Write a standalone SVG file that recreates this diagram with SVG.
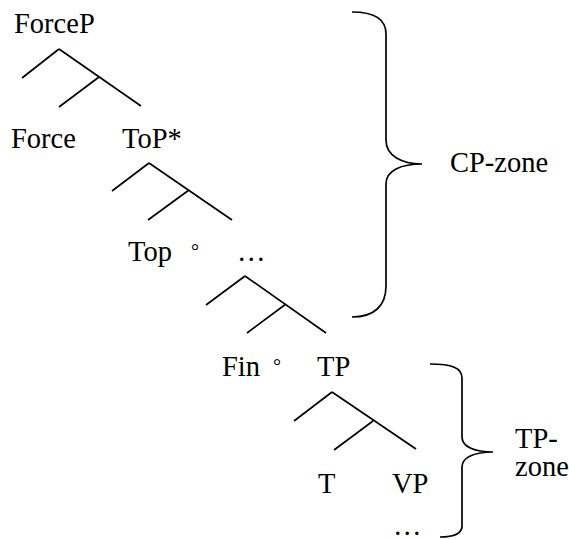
<svg xmlns="http://www.w3.org/2000/svg" width="569" height="539" viewBox="0 0 569 539">
<style>
text{font-family:"Liberation Serif","Times New Roman",serif;font-size:28.5px;fill:#000}
.deg{font-size:20px}
.e{stroke:#000;stroke-width:1.7;fill:none;stroke-linecap:butt}
</style>
<rect width="569" height="539" fill="#fff"/>
<g id="connectors">
<path class="e" d="M59,49 L22,78 M59,49 L141,106 M99,77 L59,107"/>
<path class="e" d="M149,163 L112,191 M149,163 L232,220 M189,190 L148,220"/>
<path class="e" d="M245,276 L206,305 M245,276 L326,333 M286,304 L247,333"/>
<path class="e" d="M332,392 L294,421 M332,392 L416,449 M373,421 L334,450"/>
</g>
<g id="ForceP"><text x="14" y="33">ForceP</text></g>
<g id="Force"><text x="11" y="148">Force</text></g>
<g id="ToP"><text x="122" y="148">ToP*</text></g>
<g id="Top"><text x="128" y="261">Top</text><text class="deg" x="191" y="258">°</text></g>
<g id="dots1"><text x="237" y="261">…</text></g>
<g id="Fin"><text x="222" y="376">Fin</text><text class="deg" x="273" y="373">°</text></g>
<g id="TP"><text x="317" y="376">TP</text></g>
<g id="T"><text x="318" y="493">T</text></g>
<g id="VP"><text x="392" y="493">VP</text></g>
<g id="dots2"><text x="393" y="535">…</text></g>
<g id="cp-brace">
<path class="e" d="M352,12 C376,12 386,20 386,34 L386,140 C386,156 402,164 422,164 C402,164 386,170 386,184 L386,286 C386,306 374,317 352,317"/>
<text x="450" y="172">CP-zone</text>
</g>
<g id="tp-brace">
<path class="e" d="M430,364 C452,364 462,368 462,378 L462,437 C462,447 475,452 493,452 C475,452 462,457 462,467 L462,526 C462,533 454,537 440,537"/>
<text x="515" y="448">TP-</text>
<text x="515" y="476">zone</text>
</g>
</svg>
